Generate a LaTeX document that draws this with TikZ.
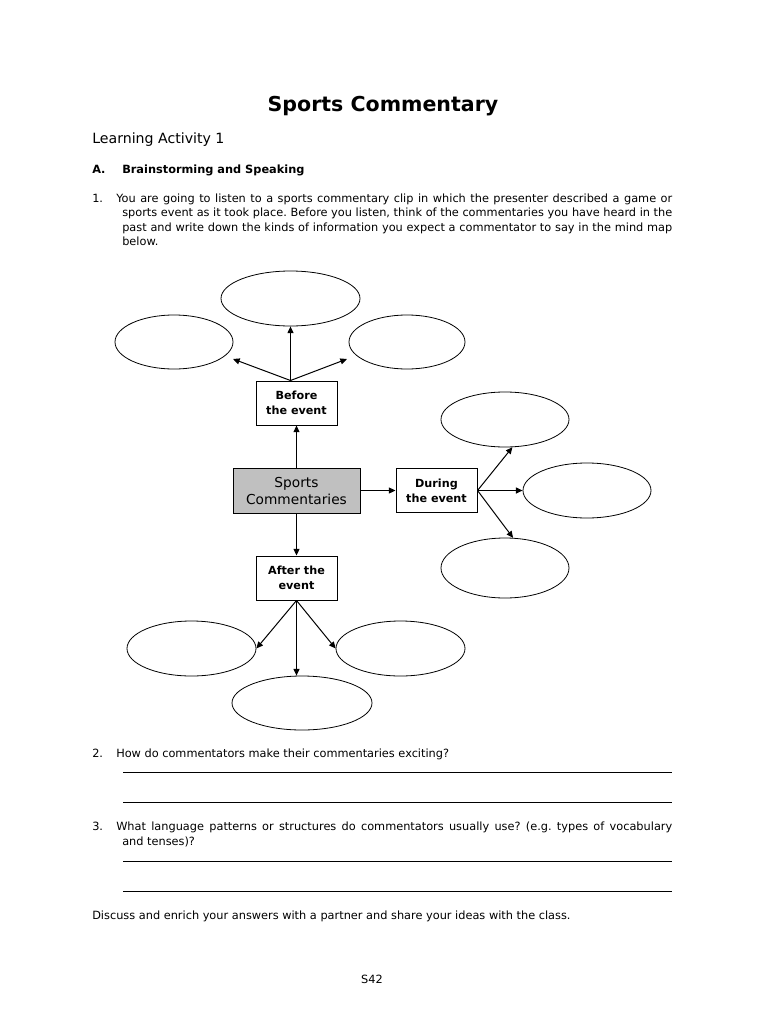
\documentclass[tikz,border=0pt]{standalone}
\usepackage{fontspec}
\setmainfont{DejaVu Sans}
\usetikzlibrary{shapes.geometric,arrows.meta}
\definecolor{hubgray}{RGB}{192,192,192}
\frenchspacing

\begin{document}
\begin{tikzpicture}[x=0.75pt,y=-0.75pt,
  txt/.style={anchor=base west,inner sep=0pt,font=\fontsize{8.5}{11}\selectfont},
  boldtxt/.style={txt,font=\bfseries\fontsize{8.5}{11}\selectfont},
  box/.style={draw,line width=0.75pt,minimum width=60.75pt,minimum height=33pt,inner sep=0pt,align=center,font=\bfseries\fontsize{8.4}{11.25}\selectfont},
  hub/.style={box,fill=hubgray,minimum width=95.25pt,minimum height=33.75pt,font=\fontsize{10.3}{12.75}\selectfont},
  bubble/.style={draw,ellipse,line width=0.6pt,inner sep=0pt,minimum height=41.25pt},
  link/.style={-{Triangle[length=5pt,width=4.5pt]},line width=0.75pt}]
\useasboundingbox (0,0) rectangle (768,1024);
\fill[white] (0,0) rectangle (768,1024);

% heading
\node[anchor=base,inner sep=0pt,font=\bfseries\fontsize{15.4}{18}\selectfont] (title) at (383,111) {Sports Commentary};
\node[txt,font=\fontsize{10.6}{13}\selectfont] (act) at (92,143) {Learning Activity 1};
\node[boldtxt] (secA) at (92,173) {A.};
\node[boldtxt] (secAtxt) at (122,173) {Brainstorming and Speaking};

% question 1
\node[txt] (n1) at (92,202) {1.};
\node[txt] (q1a) at (116,202) {\makebox[417pt][s]{You are going to listen to a sports commentary clip in which the presenter described a game or}};
\node[txt] (q1b) at (122,216.5) {\makebox[412.5pt][s]{sports event as it took place. Before you listen, think of the commentaries you have heard in the}};
\node[txt] (q1c) at (122,231) {\makebox[412.5pt][s]{past and write down the kinds of information you expect a commentator to say in the mind map}};
\node[txt] (q1d) at (122,245.5) {below.};

% mind map
\node[hub] (hub) at (296.5,490.5) {Sports\\Commentaries};
\node[box] (before) at (296.5,403) {Before\\the event};
\node[box] (during) at (436.5,490.5) {During\\the event};
\node[box] (after) at (296.5,578) {After the\\event};

\node[bubble,minimum width=104.25pt] (bT) at (290.5,298.5) {};
\node[bubble,minimum width=88.5pt,minimum height=40.5pt] (bL) at (174,342) {};
\node[bubble,minimum width=87pt,minimum height=40.5pt] (bR) at (407,342) {};
\node[bubble,minimum width=96pt] (dT) at (505,419.5) {};
\node[bubble,minimum width=96pt] (dM) at (587,490.5) {};
\node[bubble,minimum width=96pt,minimum height=45pt] (dB) at (505,568) {};
\node[bubble,minimum width=96.75pt] (aL) at (191.5,648.5) {};
\node[bubble,minimum width=96.75pt] (aR) at (400.5,648.5) {};
\node[bubble,minimum width=105pt,minimum height=40.5pt] (aB) at (302,703) {};

\coordinate (bFork) at (before.north -| bT.south);
\coordinate (bLtip) at (233,359);
\coordinate (bRtip) at (347,359);
\draw[link] (bFork) -- (bT.south);
\draw[link] (bFork) -- (bLtip);
\draw[link] (bFork) -- (bRtip);

\draw[link] (hub.north) -- (before.south);
\draw[link] (hub.east) -- (during.west);
\draw[link] (hub.south) -- (after.north);

\draw[link] (during.east) -- (dT.-75);
\draw[link] (during.east) -- (dM.west);
\draw[link] (during.east) -- (dB.75);

\draw[link] (after.south) -- (aL.east);
\draw[link] (after.south) -- (after.south |- aB.north);
\draw[link] (after.south) -- (aR.west);

% questions 2 and 3
\node[txt] (n2) at (92,757.5) {2.};
\node[txt] (q2) at (116,757.5) {How do commentators make their commentaries exciting?};
\draw[line width=0.6pt] (123,772) -- (672,772);
\draw[line width=0.6pt] (123,802) -- (672,802);

\node[txt] (n3) at (92,830.5) {3.};
\node[txt] (q3a) at (116,830.5) {\makebox[417pt][s]{What language patterns or structures do commentators usually use? (e.g. types of vocabulary}};
\node[txt] (q3b) at (122,845) {and tenses)?};
\draw[line width=0.6pt] (123,861) -- (672,861);
\draw[line width=0.6pt] (123,891) -- (672,891);

\node[txt] (discuss) at (92,919.5) {Discuss and enrich your answers with a partner and share your ideas with the class.};
\node[txt,anchor=base] (page) at (372,983) {S42};
\end{tikzpicture}
\end{document}
